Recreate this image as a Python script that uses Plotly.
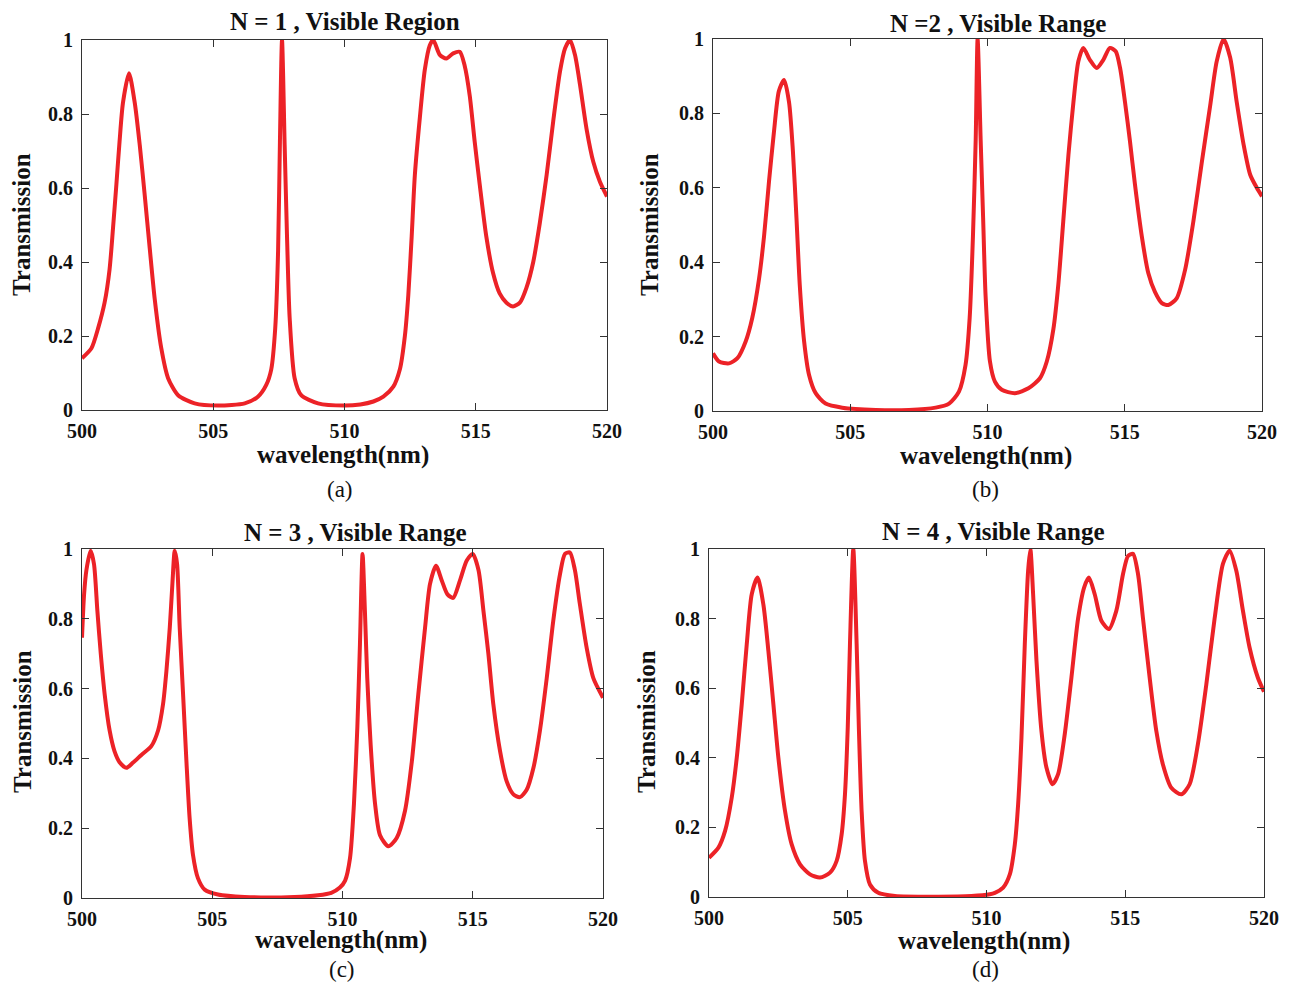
import plotly.graph_objects as go

# The page body has an 8 px margin, so the figure is made 8 px smaller on each
# axis and every reference pixel position is shifted by that offset.
OFF = 8
W, H = 1294 - OFF, 986 - OFF

# ---------------- data ----------------
wl_a = [500.0, 500.36, 500.61, 500.86, 501.05, 501.18, 501.31, 501.43, 501.56, 501.79, 502.01, 502.2,
        502.39, 502.58, 502.77, 503.02, 503.28, 503.66, 504.29, 505.18, 506.2, 506.7, 507.02, 507.21,
        507.36, 507.47, 507.54, 507.62, 507.72, 507.81, 507.91, 508.1, 508.35, 508.99, 510.0, 510.6,
        511.1, 511.48, 511.86, 512.11, 512.3, 512.43, 512.56, 512.68, 512.87, 513.06, 513.25, 513.38,
        513.63, 513.88, 514.14, 514.39, 514.58, 514.77, 514.96, 515.15, 515.4, 515.66, 515.91, 516.17,
        516.42, 516.68, 516.93, 517.19, 517.44, 517.7, 517.95, 518.21, 518.4, 518.59, 518.78, 518.97,
        519.22, 519.48, 519.73, 520.0]
tr_a = [0.14, 0.167, 0.22, 0.29, 0.38, 0.49, 0.61, 0.725, 0.83, 0.91, 0.83, 0.716,
        0.58, 0.437, 0.30, 0.167, 0.086, 0.04, 0.018, 0.012, 0.018, 0.036, 0.068, 0.11,
        0.22, 0.43, 0.725, 1.0, 0.716, 0.47, 0.25, 0.086, 0.04, 0.018, 0.012, 0.015,
        0.023, 0.036, 0.063, 0.11, 0.2, 0.31, 0.47, 0.635, 0.79, 0.92, 0.986, 1.0,
        0.96, 0.95, 0.964, 0.968, 0.93, 0.85, 0.725, 0.61, 0.47, 0.37, 0.315, 0.29,
        0.28, 0.29, 0.33, 0.40, 0.505, 0.635, 0.78, 0.915, 0.977, 1.0, 0.96, 0.88,
        0.76, 0.67, 0.617, 0.577]

wl_b = [500.0, 500.22, 500.58, 500.89, 501.19, 501.43, 501.68, 501.86, 502.04, 502.22, 502.4, 502.59,
        502.77, 502.91, 503.04, 503.16, 503.32, 503.5, 503.74, 504.1, 504.71, 505.93, 507.14, 508.11,
        508.6, 508.96, 509.2, 509.35, 509.47, 509.57, 509.64, 509.75, 509.84, 509.93, 510.09, 510.27,
        510.52, 511.0, 511.49, 511.91, 512.16, 512.4, 512.58, 512.76, 512.95, 513.13, 513.31, 513.49,
        513.73, 513.98, 514.22, 514.46, 514.67, 514.83, 515.01, 515.19, 515.37, 515.62, 515.86, 516.1,
        516.35, 516.59, 516.89, 517.2, 517.5, 517.81, 518.11, 518.35, 518.6, 518.84, 519.08, 519.33,
        519.57, 519.81, 520.0]
tr_b = [0.155, 0.133, 0.128, 0.142, 0.187, 0.25, 0.357, 0.47, 0.617, 0.75, 0.86, 0.89,
        0.83, 0.70, 0.52, 0.34, 0.187, 0.097, 0.048, 0.02, 0.009, 0.003, 0.003, 0.009,
        0.02, 0.052, 0.124, 0.25, 0.47, 0.73, 1.0, 0.73, 0.52, 0.31, 0.133, 0.079,
        0.057, 0.048, 0.061, 0.088, 0.133, 0.22, 0.34, 0.51, 0.69, 0.83, 0.94, 0.976,
        0.944, 0.922, 0.944, 0.976, 0.967, 0.922, 0.83, 0.725, 0.61, 0.47, 0.37, 0.32,
        0.29, 0.285, 0.303, 0.38, 0.51, 0.67, 0.82, 0.94, 1.0, 0.95, 0.83, 0.716,
        0.635, 0.60, 0.577]

wl_c = [500.0, 500.08, 500.17, 500.33, 500.46, 500.59, 500.72, 500.87, 501.06, 501.25, 501.45, 501.7,
        501.96, 502.28, 502.66, 502.92, 503.11, 503.24, 503.37, 503.47, 503.56, 503.65, 503.75, 503.88,
        504.01, 504.13, 504.26, 504.45, 504.71, 505.22, 506.24, 508.16, 509.06, 509.57, 509.9, 510.1,
        510.29, 510.44, 510.57, 510.67, 510.77, 510.86, 510.95, 511.08, 511.25, 511.44, 511.76, 512.08,
        512.40, 512.66, 512.91, 513.17, 513.36, 513.59, 513.81, 514.03, 514.25, 514.51, 514.77, 515.0,
        515.22, 515.41, 515.6, 515.79, 516.05, 516.3, 516.56, 516.81, 517.07, 517.33, 517.58, 517.84,
        518.09, 518.35, 518.54, 518.73, 518.92, 519.11, 519.37, 519.63, 520.0]
tr_c = [0.746, 0.87, 0.94, 0.995, 0.957, 0.823, 0.70, 0.584, 0.48, 0.42, 0.388, 0.373,
        0.388, 0.41, 0.435, 0.48, 0.555, 0.65, 0.775, 0.90, 0.995, 0.957, 0.775, 0.584,
        0.39, 0.23, 0.124, 0.057, 0.024, 0.01, 0.003, 0.003, 0.008, 0.015, 0.03, 0.05,
        0.115, 0.27, 0.49, 0.727, 0.986, 0.823, 0.63, 0.44, 0.27, 0.18, 0.148, 0.172,
        0.25, 0.39, 0.584, 0.775, 0.90, 0.952, 0.91, 0.87, 0.86, 0.91, 0.967, 0.986,
        0.94, 0.823, 0.70, 0.555, 0.42, 0.335, 0.297, 0.289, 0.31, 0.373, 0.48, 0.63,
        0.794, 0.928, 0.986, 0.99, 0.94, 0.843, 0.718, 0.63, 0.574]

wl_d = [500.0, 500.34, 500.58, 500.82, 501.0, 501.18, 501.36, 501.54, 501.75, 501.96, 502.14, 502.32,
        502.5, 502.74, 502.98, 503.28, 503.64, 504.0, 504.36, 504.6, 504.78, 504.9, 505.0, 505.08,
        505.2, 505.32, 505.4, 505.5, 505.62, 505.8, 506.1, 506.7, 508.26, 509.46, 510.12, 510.3,
        510.6, 510.84, 511.02, 511.14, 511.26, 511.38, 511.5, 511.58, 511.68, 511.8, 511.98, 512.16,
        512.38, 512.58, 512.82, 513.06, 513.3, 513.52, 513.69, 513.9, 514.14, 514.41, 514.68, 514.92,
        515.1, 515.28, 515.46, 515.64, 515.88, 516.12, 516.36, 516.66, 517.02, 517.32, 517.62, 517.92,
        518.22, 518.52, 518.76, 519.0, 519.24, 519.48, 519.78, 520.0]
tr_d = [0.113, 0.142, 0.19, 0.286, 0.40, 0.554, 0.726, 0.87, 0.918, 0.84, 0.707, 0.554,
        0.40, 0.247, 0.151, 0.094, 0.065, 0.056, 0.07, 0.104, 0.18, 0.295, 0.487, 0.727,
        1.0, 0.727, 0.487, 0.247, 0.104, 0.036, 0.012, 0.003, 0.001, 0.003, 0.008, 0.012,
        0.027, 0.065, 0.151, 0.267, 0.458, 0.727, 0.938, 1.0, 0.87, 0.68, 0.477, 0.372,
        0.324, 0.353, 0.468, 0.63, 0.80, 0.89, 0.918, 0.87, 0.794, 0.77, 0.823, 0.928,
        0.98, 0.986, 0.928, 0.80, 0.63, 0.477, 0.38, 0.314, 0.295, 0.324, 0.44, 0.61,
        0.80, 0.957, 0.995, 0.938, 0.823, 0.717, 0.63, 0.59]

titles = ["N = 1 , Visible Region", "N =2 , Visible Range", "N = 3 , Visible Range", "N = 4 , Visible Range"]
captions = ["(a)", "(b)", "(c)", "(d)"]
x_ticks = [500, 505, 510, 515, 520]
y_ticks = [0, 0.2, 0.4, 0.6, 0.8, 1]
y_ticktext = ["0", "0.2", "0.4", "0.6", "0.8", "1"]

# ---------------- layout geometry (reference pixels) ----------------
boxes = [(82, 607, 40, 410), (713, 1262, 39, 411), (82, 603, 549, 898), (709, 1264, 549, 897)]
title_pos = [(345, 22), (998, 23), (355, 532), (993, 531)]
xlab_pos = [(343, 455), (986, 456), (341, 940), (984, 941)]
ylab_pos = [(22, 225), (650, 225), (22, 722), (646, 722)]
cap_pos = [(340, 489), (985, 489), (342, 969), (985, 969)]


def px(x):
    return (x - OFF) / W


def py(y):
    return 1 - (y - OFF) / H


RED = "rgb(236,34,39)"
SERIF = "Liberation Serif, Times New Roman, serif"
INK = "#111111"

fig = go.Figure()
data = [(wl_a, tr_a), (wl_b, tr_b), (wl_c, tr_c), (wl_d, tr_d)]
annotations = []
for i, ((xs, ys), (l, r, t, b)) in enumerate(zip(data, boxes)):
    n = "" if i == 0 else str(i + 1)
    fig.add_trace(go.Scatter(x=xs, y=ys, mode="lines", xaxis="x" + n, yaxis="y" + n,
                             line=dict(color=RED, width=4, shape="spline", smoothing=0.7),
                             showlegend=False, hoverinfo="skip", cliponaxis=True))
    common = dict(ticks="inside", ticklen=7, tickwidth=1, tickcolor="#333",
                  showline=True, linecolor="#333", linewidth=1.2, mirror="ticks",
                  showgrid=False, zeroline=False, automargin=False,
                  tickfont=dict(family=SERIF, size=20, color=INK, weight="bold"))
    ax = dict(domain=[px(l), px(r)], range=[500, 520], tickvals=x_ticks,
              anchor="y" + n, ticklabelstandoff=3, **common)
    ay = dict(domain=[py(b), py(t)], range=[0, 1], tickvals=y_ticks, ticktext=y_ticktext,
              anchor="x" + n, ticklabelstandoff=4, **common)
    fig.update_layout({"xaxis" + n: ax, "yaxis" + n: ay})
    tx, ty = title_pos[i]
    annotations.append(dict(text=titles[i], x=px(tx), y=py(ty), xref="paper", yref="paper",
                            showarrow=False, xanchor="center", yanchor="middle",
                            font=dict(family=SERIF, size=25, color=INK, weight="bold")))
    lx, ly = xlab_pos[i]
    annotations.append(dict(text="wavelength(nm)", x=px(lx), y=py(ly), xref="paper", yref="paper",
                            showarrow=False, xanchor="center", yanchor="middle",
                            font=dict(family=SERIF, size=25, color=INK, weight="bold")))
    vx, vy = ylab_pos[i]
    annotations.append(dict(text="Transmission", x=px(vx), y=py(vy), xref="paper", yref="paper",
                            showarrow=False, xanchor="center", yanchor="middle", textangle=-90,
                            font=dict(family=SERIF, size=25, color=INK, weight="bold")))
    cx, cy = cap_pos[i]
    annotations.append(dict(text=captions[i], x=px(cx), y=py(cy), xref="paper", yref="paper",
                            showarrow=False, xanchor="center", yanchor="middle",
                            font=dict(family=SERIF, size=23, color=INK)))

fig.update_layout(width=W, height=H, margin=dict(l=0, r=0, t=0, b=0, autoexpand=False),
                  paper_bgcolor="white", plot_bgcolor="white", annotations=annotations)

fig.write_html("out.html")
